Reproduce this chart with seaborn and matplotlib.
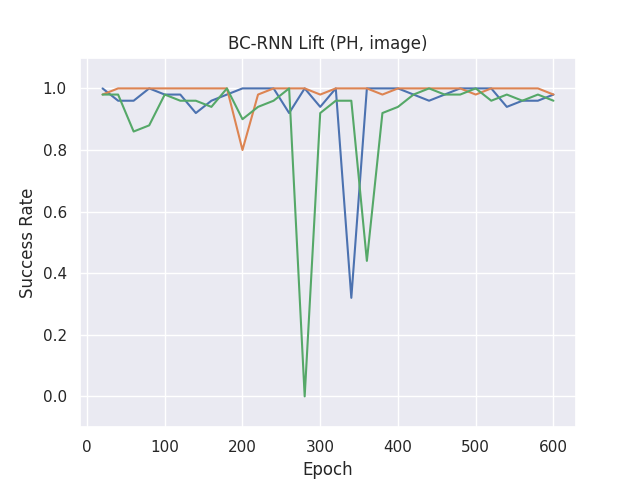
import pandas as pd
import numpy as np
import matplotlib
matplotlib.use("Agg")
import matplotlib.pyplot as plt
import seaborn as sns

# Success rate per evaluation epoch
epochs = list(range(20, 620, 20))

run_1 = [1.0, 0.96, 0.96, 1.0, 0.98, 0.98, 0.92, 0.96, 0.98, 1.0,
         1.0, 1.0, 0.92, 1.0, 0.94, 1.0, 0.32, 1.0, 1.0, 1.0,
         0.98, 0.96, 0.98, 1.0, 1.0, 1.0, 0.94, 0.96, 0.96, 0.98]
run_2 = [0.98, 1.0, 1.0, 1.0, 1.0, 1.0, 1.0, 1.0, 1.0, 0.80,
         0.98, 1.0, 1.0, 1.0, 0.98, 1.0, 1.0, 1.0, 0.98, 1.0,
         1.0, 1.0, 1.0, 1.0, 0.98, 1.0, 1.0, 1.0, 1.0, 0.98]
run_3 = [0.98, 0.98, 0.86, 0.88, 0.98, 0.96, 0.96, 0.94, 1.0, 0.90,
         0.94, 0.96, 1.0, 0.0, 0.92, 0.96, 0.96, 0.44, 0.92, 0.94,
         0.98, 1.0, 0.98, 0.98, 1.0, 0.96, 0.98, 0.96, 0.98, 0.96]

run_names = ["seed 1", "seed 2", "seed 3"]


def build_frame():
    frames = []
    for name, values in zip(run_names, [run_1, run_2, run_3]):
        frames.append(pd.DataFrame({"Epoch": epochs, "Success Rate": values, "run": name}))
    return pd.concat(frames, ignore_index=True)


def plot_success(df):
    sns.set_theme(style="darkgrid")
    fig, ax = plt.subplots(figsize=(6.4, 4.8), dpi=100)
    sns.lineplot(data=df, x="Epoch", y="Success Rate", hue="run",
                 legend=False, ax=ax, linewidth=1.5)
    ax.set_ylim(-0.1, 1.1)
    ax.set_title("BC-RNN Lift (PH, image)")
    fig.subplots_adjust(left=0.125, right=0.9, top=0.88, bottom=0.11)
    fig.savefig("out.png", dpi=100)


plot_success(build_frame())
